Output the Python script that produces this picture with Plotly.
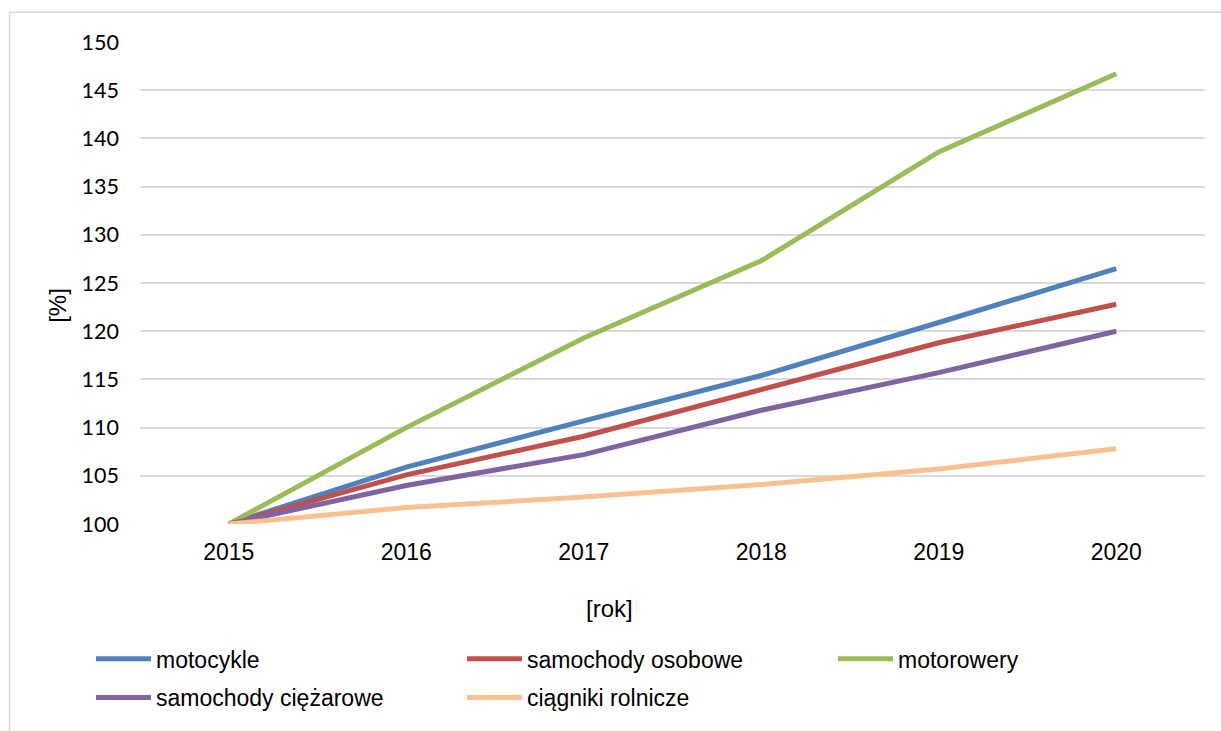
import plotly.graph_objects as go

years = ["2015", "2016", "2017", "2018", "2019", "2020"]
motocykle = [100, 105.9, 110.7, 115.4, 120.9, 126.5]
samochody_osobowe = [100, 105.1, 109.1, 114.0, 118.8, 122.8]
motorowery = [100, 110.0, 119.3, 127.3, 138.6, 146.7]
samochody_ciezarowe = [100, 104.0, 107.2, 111.8, 115.7, 120.0]
ciagniki_rolnicze = [100, 101.7, 102.8, 104.1, 105.7, 107.8]

series = [
    ("motocykle", motocykle, "#4f81bd", "legend"),
    ("samochody osobowe", samochody_osobowe, "#c0504d", "legend"),
    ("motorowery", motorowery, "#9bbb59", "legend"),
    ("samochody ciężarowe", samochody_ciezarowe, "#8064a2", "legend2"),
    ("ciągniki rolnicze", ciagniki_rolnicze, "#fac090", "legend2"),
]

W, H = 1221, 731
L, R, T, B = 140, 16, 42, 203
PW = W - L - R
PH = H - T - B


def px_x(x):
    return (x - L) / PW


def px_y(y):
    return (H - B - y) / PH


fig = go.Figure()
for name, vals, color, leg in series:
    fig.add_trace(go.Scatter(
        x=years, y=vals, name=name, mode="lines",
        line=dict(color=color, width=5),
        legend=leg,
    ))

legend_common = dict(
    orientation="h",
    xanchor="left", yanchor="middle",
    font=dict(family="Liberation Sans, Arial", size=23, color="#000000"),
    itemwidth=55,
    entrywidth=301,
    bgcolor="rgba(0,0,0,0)",
    itemclick=False, itemdoubleclick=False,
    traceorder="normal",
)

fig.update_layout(
    width=W, height=H,
    margin=dict(l=L, r=R, t=T, b=B),
    paper_bgcolor="white", plot_bgcolor="white",
    showlegend=True,
    legend=dict(**legend_common, x=px_x(91), y=px_y(664)),
    legend2=dict(**legend_common, x=px_x(91), y=px_y(703)),
    xaxis=dict(
        type="category", range=[-0.5, 5.5],
        showgrid=False, showline=False, zeroline=False, ticks="",
        tickfont=dict(family="Liberation Sans, Arial", size=23, color="#000000"),
        ticklabelstandoff=12,
    ),
    yaxis=dict(
        range=[100, 150], dtick=5, tick0=100,
        showgrid=True, gridcolor="#d9d9d9", gridwidth=2,
        showline=False, zeroline=False, ticks="",
        tickfont=dict(family="Lato, Liberation Sans", size=21.5, color="#000000"),
        ticklabelstandoff=20,
    ),
    annotations=[
        dict(text="[rok]", x=px_x(609), y=px_y(613), xref="paper", yref="paper",
             showarrow=False, xanchor="center", yanchor="middle",
             font=dict(family="Liberation Sans, Arial", size=24, color="#000000")),
        dict(text="[%]", x=px_x(58), y=px_y(308), xref="paper", yref="paper",
             showarrow=False, xanchor="center", yanchor="middle", textangle=-90,
             font=dict(family="Liberation Sans, Arial", size=24, color="#000000")),
    ],
    shapes=[
        dict(type="rect", xref="paper", yref="paper",
             x0=px_x(9.5), x1=px_x(1240), y0=px_y(12), y1=px_y(760),
             line=dict(color="#d9d9d9", width=1.5), fillcolor="rgba(0,0,0,0)",
             layer="below"),
    ],
)

fig.write_html(
    "out.html",
    config={"displayModeBar": False},
    post_script="document.body.style.margin='0';document.body.style.overflow='hidden';",
)
